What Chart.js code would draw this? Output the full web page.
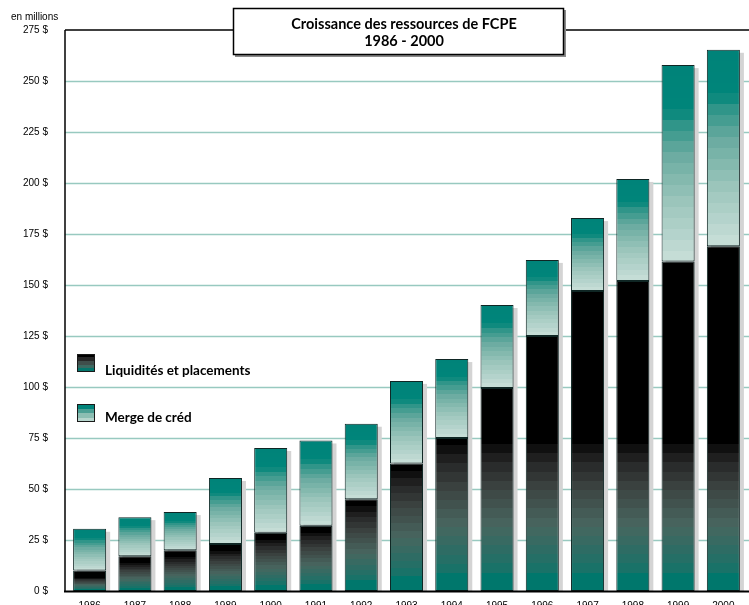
<!DOCTYPE html>
<html>
<head>
<meta charset="utf-8">
<script src="https://cdn.jsdelivr.net/npm/chart.js@4.4.1/dist/chart.umd.min.js"></script>
<style>
html, body { margin: 0; padding: 0; overflow: hidden; background: #fff; }
canvas { display: block; }
</style>
</head>
<body>
<canvas id="grafica" width="749" height="620"></canvas>
<script>
const annees = ['1986', '1987', '1988', '1989', '1990', '1991', '1992', '1993',
                '1994', '1995', '1996', '1997', '1998', '1999', '2000'];
const liquidites = [10, 17, 20, 23, 28.5, 32, 45, 62.5, 75, 99.5, 125, 147, 152, 161.5, 169];
const margeCredit = [20.5, 19.2, 18.7, 32.4, 41.6, 41.8, 37, 40.5, 38.7, 40.7, 37.3, 35.8, 50, 96.3, 96.3];
const etiquettes = ['Liquidités et placements', 'Merge de créd'];
const titre = ['Croissance des ressources de FCPE', '1986 - 2000'];

// couleurs des degrades (t = 0 en bas)
const stopsLiq = [[0, [0, 119, 108]], [0.12, [0, 119, 108]], [0.16, [28, 113, 104]],
                  [0.45, [72, 102, 95]], [0.7, [60, 68, 66]], [0.88, [38, 38, 38]], [1, [8, 8, 8]]];
const stopsMarge = [[0, [201, 223, 217]], [0.3, [156, 198, 188]], [0.55, [104, 170, 159]],
                    [0.74, [30, 142, 130]], [0.76, [0, 133, 122]], [1, [0, 131, 121]]];

function couleur(stops, t) {
  for (let k = 1; k < stops.length; k++) {
    if (t <= stops[k][0]) {
      const [t0, c0] = stops[k - 1], [t1, c1] = stops[k];
      const f = t1 > t0 ? (t - t0) / (t1 - t0) : 0;
      const c = c0.map((v, j) => Math.round(v + (c1[j] - v) * f));
      return 'rgb(' + c.join(',') + ')';
    }
  }
  return 'rgb(' + stops[stops.length - 1][1].join(',') + ')';
}

// degrade en bandes entre yBas et yHaut ; la partie au-dessus de "fin" reste noire
function bandes(ctx, yBas, yHaut, stops, n, fin) {
  if (!isFinite(yBas) || !isFinite(yHaut) || yBas === yHaut) return couleur(stops, 0.5);
  const g = ctx.createLinearGradient(0, yBas, 0, yHaut);
  for (let k = 0; k < n; k++) {
    const c = couleur(stops, (k + 0.5) / n);
    g.addColorStop(k / n * fin, c);
    g.addColorStop((k + 1) / n * fin, c);
  }
  if (fin < 1) {
    g.addColorStop(Math.min(1, fin + 0.0001), '#000');
    g.addColorStop(1, '#000');
  }
  return g;
}

function fondLiquidites(c) {
  const y = c.chart.scales.y;
  if (c.type !== 'data' || !y) return '#00776c';
  const h = liquidites[c.dataIndex];
  const noir = Math.min(h - 3.5, 72);
  return bandes(c.chart.ctx, y.getPixelForValue(0), y.getPixelForValue(h), stopsLiq, 16, noir / h);
}

function fondMarge(c) {
  const y = c.chart.scales.y;
  if (c.type !== 'data' || !y) return '#00857a';
  const b = liquidites[c.dataIndex];
  const h = b + margeCredit[c.dataIndex];
  return bandes(c.chart.ctx, y.getPixelForValue(b), y.getPixelForValue(h), stopsMarge, 18, 1);
}

const decor = {
  id: 'decor',
  beforeDatasetsDraw(chart) {
    const ctx = chart.ctx, y = chart.scales.y;
    ctx.save();
    ctx.strokeStyle = '#98c9c0';
    ctx.lineWidth = 1.5;
    y.ticks.forEach(t => {
      if (t.value <= 0 || t.value >= 275) return;
      const py = Math.round(y.getPixelForValue(t.value)) + 0.5;
      ctx.beginPath(); ctx.moveTo(65, py); ctx.lineTo(749, py); ctx.stroke();
    });
    // ombres des barres
    const m0 = chart.getDatasetMeta(0).data, m1 = chart.getDatasetMeta(1).data;
    ctx.fillStyle = '#d4d4d4';
    m1.forEach((el, i) => {
      const bas = m0[i].base;
      ctx.fillRect(el.x - el.width / 2 + 4, el.y + 3, el.width, bas - el.y - 3);
    });
    ctx.restore();
  },
  afterDatasetsDraw(chart) {
    const ctx = chart.ctx, y = chart.scales.y;
    const y0 = y.getPixelForValue(0), yMax = y.getPixelForValue(275);
    ctx.save();
    ctx.strokeStyle = '#000';
    ctx.lineWidth = 1.5;
    ctx.beginPath(); ctx.moveTo(65, yMax); ctx.lineTo(749, yMax); ctx.stroke();
    ctx.beginPath(); ctx.moveTo(65, yMax); ctx.lineTo(65, y0); ctx.stroke();
    ctx.lineWidth = 2;
    ctx.beginPath(); ctx.moveTo(64, y0 + 0.5); ctx.lineTo(749, y0 + 0.5); ctx.stroke();

    // cadre du titre
    ctx.fillStyle = '#8a8a8a';
    ctx.fillRect(235, 10, 331, 47);
    ctx.fillStyle = '#fff';
    ctx.fillRect(233, 8, 331, 47);
    ctx.lineWidth = 1.5;
    ctx.strokeRect(233.5, 8.5, 330, 46);
    ctx.fillStyle = '#000';
    ctx.font = 'bold 14.5px Lato';
    ctx.textAlign = 'center';
    ctx.textBaseline = 'alphabetic';
    ctx.fillText(titre[0], 404, 29);
    ctx.fillText(titre[1], 404, 46);

    // unite
    ctx.textAlign = 'left';
    ctx.font = '10px "Liberation Sans"';
    ctx.fillText('en millions', 11, 20);

    // legende
    const boites = [[354, stopsLiq, 0.82, 375], [404, stopsMarge, 1, 422]];
    boites.forEach(([by, st, fin, base], i) => {
      ctx.fillStyle = bandes(ctx, by + 18, by, st, 4, fin);
      ctx.fillRect(77, by, 18, 18);
      ctx.strokeStyle = '#1a1a1a';
      ctx.lineWidth = 1;
      ctx.strokeRect(77.5, by + 0.5, 17, 17);
      ctx.fillStyle = '#000';
      ctx.font = 'bold 13.5px Lato';
      ctx.fillText(etiquettes[i], 105, base);
    });
    ctx.restore();
  }
};

new Chart(document.getElementById('grafica'), {
  type: 'bar',
  data: {
    labels: annees,
    datasets: [
      { label: etiquettes[0], data: liquidites, backgroundColor: fondLiquidites },
      { label: etiquettes[1], data: margeCredit, backgroundColor: fondMarge }
    ]
  },
  options: {
    responsive: false,
    animation: false,
    layout: { padding: { top: 30, right: 3, left: 0, bottom: 0 } },
    datasets: {
      bar: {
        borderColor: '#0f2624',
        borderWidth: 1,
        borderSkipped: false,
        categoryPercentage: 1,
        barPercentage: 0.73
      }
    },
    plugins: { legend: { display: false }, tooltip: { enabled: false } },
    scales: {
      x: {
        stacked: true,
        grid: { display: false, drawTicks: false },
        border: { display: false },
        ticks: { color: '#000', font: { family: 'Liberation Sans', size: 10 }, padding: 9, maxRotation: 0 },
        afterFit(s) { s.height = 29; }
      },
      y: {
        stacked: true,
        min: 0,
        max: 275,
        grid: { display: false, drawTicks: false },
        border: { display: false },
        ticks: {
          stepSize: 25,
          color: '#000',
          padding: 19,
          font: { family: 'Liberation Sans', size: 10 },
          callback: v => v + ' $'
        },
        afterFit(s) { s.width = 67; }
      }
    }
  },
  plugins: [decor]
});
</script>
</body>
</html>
